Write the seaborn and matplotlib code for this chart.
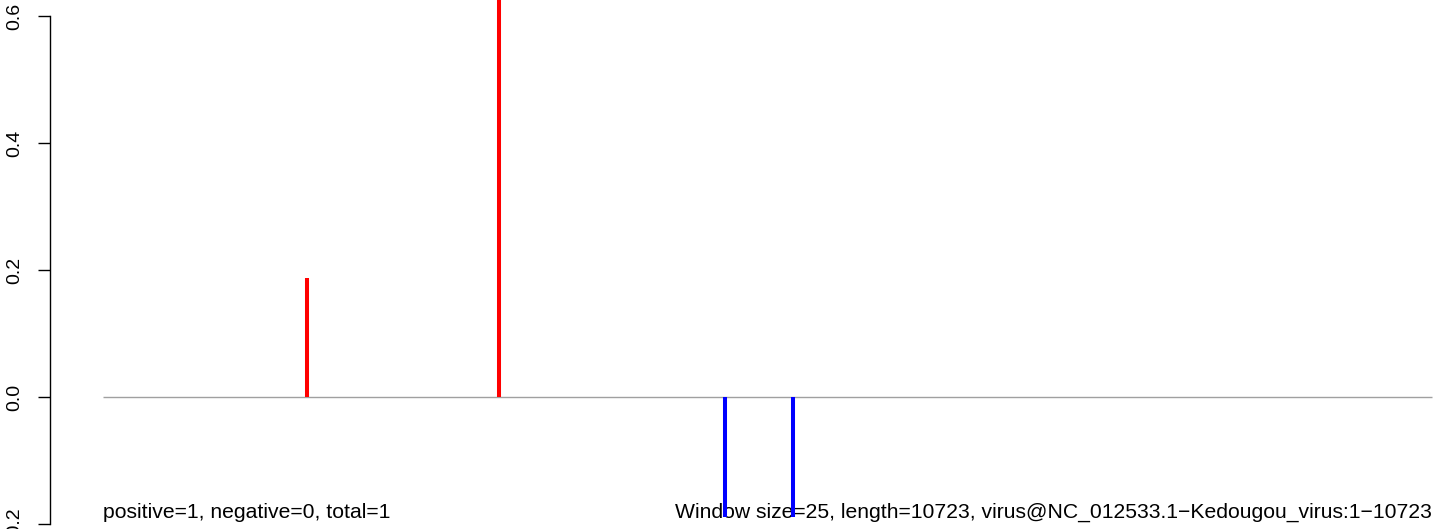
import matplotlib
matplotlib.use("Agg")
import matplotlib.pyplot as plt
import seaborn as sns

sns.set_style("ticks")
plt.rcParams['font.family'] = ['Liberation Sans', 'DejaVu Sans']

# sequence positions (nt) and window scores
seq_length = 10723
positions = [1646, 3196, 5020, 5569]
scores = [0.187, 0.75, -0.189, -0.189]
bar_colors = ['red', 'red', 'blue', 'blue']
yticks = [-0.2, 0.0, 0.2, 0.4, 0.6]
left_note = "positive=1, negative=0, total=1"
right_note = "Window size=25, length=10723, virus@NC_012533.1\u2212Kedougou_virus:1\u221210723"

W, H = 1444, 529
fig = plt.figure(figsize=(W / 100, H / 100), dpi=100)
ax = fig.add_axes([50 / W, 0, 1 - 50 / W, 1])

# map 0 -> px 103 and seq_length -> px 1432
ppn = (1432 - 103) / seq_length
ax.set_xlim(-(103 - 50) / ppn, seq_length + (W - 1432) / ppn)
ax.set_ylim(-0.2 - 5 / 635, 0.6 + 16 / 635)

ax.hlines(0, 0, seq_length, color='#a0a0a0', lw=1.0, zorder=1)
ax.vlines(positions, 0, scores, colors=bar_colors, lw=2.9, zorder=3)

ax.text(0, -0.190, left_note, fontsize=15.2, color='black', ha='left', va='baseline', zorder=2)
ax.text(seq_length, -0.190, right_note, fontsize=15.2, color='black', ha='right', va='baseline', zorder=2)

for s in ['top', 'right', 'bottom']:
    ax.spines[s].set_visible(False)
ax.spines['left'].set_bounds(-0.2, 0.6)
ax.spines['left'].set_linewidth(1.0)
ax.spines['left'].set_color('black')
ax.set_xticks([])
ax.set_yticks(yticks)
ax.set_yticklabels([f"{t:.1f}" for t in yticks], rotation=90, va='center', fontsize=14, color='black')
ax.tick_params(axis='y', length=9, width=1.0, pad=10, color='black')

fig.savefig("out.png", dpi=100)
